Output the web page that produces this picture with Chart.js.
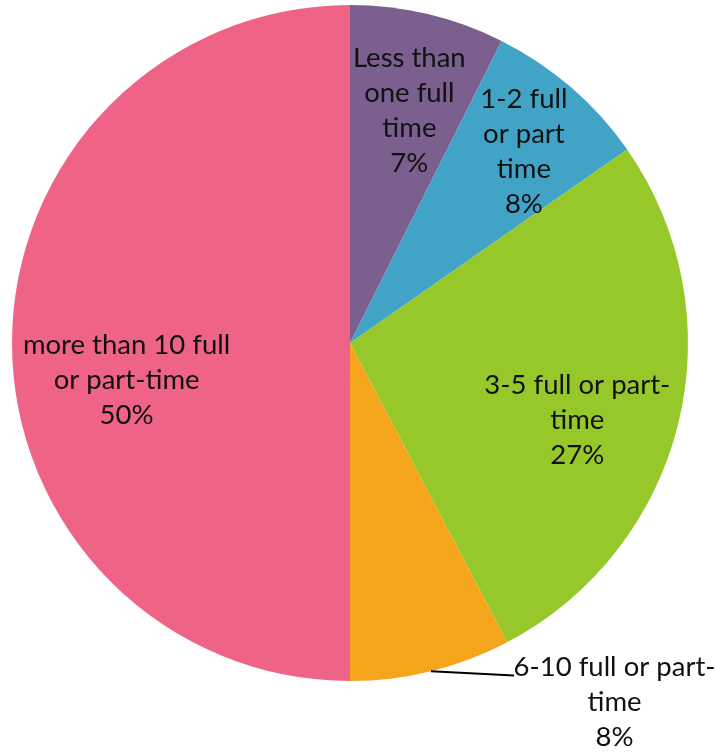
<!DOCTYPE html>
<html>
<head>
<meta charset="utf-8">
<script src="https://cdn.jsdelivr.net/npm/chart.js@4/dist/chart.umd.min.js"></script>
<style>
  html, body { margin: 0; padding: 0; background: #ffffff; }
  #box { width: 715px; height: 752px; }
</style>
</head>
<body>
<div id="box"><canvas id="pie"></canvas></div>
<script>
// categories and values (percent of respondents)
const categories = [
  ['Less than', 'one full', 'time'],
  ['1-2 full', 'or part', 'time'],
  ['3-5 full or part-', 'time'],
  ['6-10 full or part-', 'time'],
  ['more than 10 full', 'or part-time']
];
const values = [7.4, 7.9, 27.0, 7.7, 50.0];
const colors = ['#7b5f8f', '#41a3c5', '#96c82a', '#f5a51c', '#ef6486'];

// where each label sits: angle offset (deg) from slice middle, fraction of radius
const labelPlace = [
  { da: 1, f: 0.71 },
  { da: 1.4, f: 0.765 },
  { da: 5, f: 0.71 },
  { da: -22.5, f: 1.32, leader: { da: -12.4, f: 1.097 } },
  { da: -9.4, f: 0.67 }
];

const total = values.reduce((a, b) => a + b, 0);

const pieLabels = {
  id: 'pieLabels',
  afterDraw(chart) {
    const ctx = chart.ctx;
    const meta = chart.getDatasetMeta(0);
    ctx.save();
    ctx.font = '27.5px Lato';
    ctx.fillStyle = '#111111';
    ctx.textAlign = 'center';
    ctx.textBaseline = 'middle';
    meta.data.forEach((arc, i) => {
      const p = arc.getProps(['x', 'y', 'startAngle', 'endAngle', 'outerRadius'], true);
      const mid = (p.startAngle + p.endAngle) / 2;
      const place = labelPlace[i];
      const a = mid + place.da * Math.PI / 180;
      const r = p.outerRadius * place.f;
      const cx = p.x + Math.cos(a) * r;
      const cy = p.y + Math.sin(a) * r;
      if (place.leader) {
        const la = mid + place.leader.da * Math.PI / 180;
        const lr = p.outerRadius * place.leader.f;
        ctx.beginPath();
        ctx.strokeStyle = '#000000';
        ctx.lineWidth = 2;
        ctx.moveTo(p.x + Math.cos(mid) * p.outerRadius, p.y + Math.sin(mid) * p.outerRadius);
        ctx.lineTo(p.x + Math.cos(la) * lr, p.y + Math.sin(la) * lr);
        ctx.stroke();
      }
      const lines = categories[i].concat([Math.round(values[i] / total * 100) + '%']);
      const lh = 35;
      const top = cy - (lines.length - 1) * lh / 2;
      lines.forEach((t, k) => ctx.fillText(t, cx, top + k * lh));
    });
    ctx.restore();
  }
};

new Chart(document.getElementById('pie'), {
  type: 'pie',
  data: {
    labels: categories.map(c => c.join(' ')),
    datasets: [{
      data: values,
      backgroundColor: colors,
      borderWidth: 0
    }]
  },
  options: {
    responsive: true,
    maintainAspectRatio: false,
    animation: false,
    layout: { padding: { left: 12, right: 27, top: 5, bottom: 71 } },
    plugins: {
      legend: { display: false },
      tooltip: { enabled: false }
    }
  },
  plugins: [pieLabels]
});
</script>
</body>
</html>
